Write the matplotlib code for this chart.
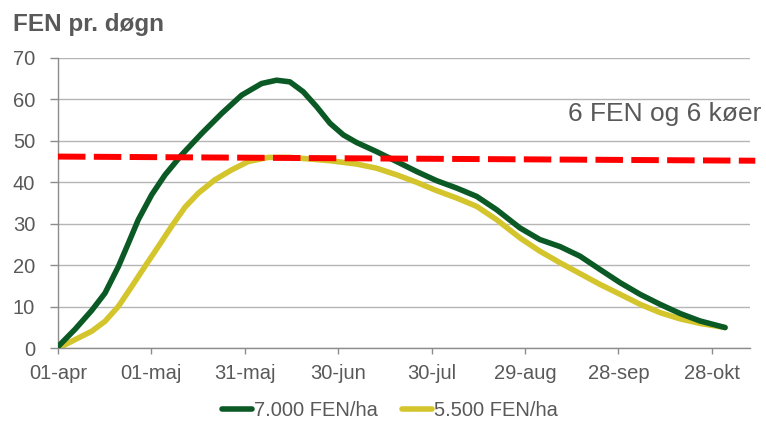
import matplotlib
matplotlib.use("Agg")
import matplotlib.pyplot as plt

# days after 01-apr
green_days = [0, 5.5, 10.8, 15.1, 19.4, 22.6, 25.8, 30.1, 34.4, 39.7, 46.2, 52.6,
              59, 65.4, 70.2, 74.5, 78.8, 83.1, 87.4, 91.7, 95.9, 102.3, 108.8,
              115.2, 121.6, 128.1, 134.5, 140.9, 148.4, 154.8, 161.3, 167.7, 174.1,
              180.6, 187, 193.4, 199.8, 206.2, 214.3]
green_vals = [0.4, 4.6, 9.1, 13.3, 19.7, 25.3, 31.0, 37.0, 41.8, 46.6, 51.8, 56.6,
              61.0, 63.8, 64.6, 64.2, 61.8, 58.2, 54.2, 51.4, 49.6, 47.4, 45.0,
              42.6, 40.4, 38.6, 36.6, 33.4, 29.0, 26.2, 24.5, 22.2, 19.0,
              15.8, 13.0, 10.6, 8.4, 6.6, 5.0]

yellow_days = [0, 5.5, 10.8, 15.1, 19.4, 23.7, 27.9, 32.2, 36.5, 40.8, 45.1, 50.4,
               55.8, 61.1, 67.6, 74.5, 81, 87.4, 95.9, 102.3, 108.8, 115.2, 121.6,
               128.1, 134.5, 140.9, 148.4, 154.8, 161.3, 167.7, 174.1, 180.6, 187,
               193.4, 199.8, 206.2, 214.3]
yellow_vals = [0.0, 2.1, 4.1, 6.5, 10.1, 14.9, 19.7, 24.5, 29.4, 34.0, 37.4, 40.6,
               43.0, 45.0, 46.0, 46.0, 45.6, 45.2, 44.4, 43.4, 41.8, 40.0, 38.0,
               36.2, 34.2, 31.0, 26.6, 23.4, 20.6, 18.0, 15.4, 13.0, 10.6,
               8.6, 7.1, 6.0, 5.0]

red_days = [0, 224]
red_vals = [46.2, 45.2]

tick_days = [0, 30, 60, 90, 120, 150, 180, 210]
tick_labels = ["01-apr", "01-maj", "31-maj", "30-jun", "30-jul", "29-aug", "28-sep", "28-okt"]

plt.rcParams['font.family'] = ['Liberation Sans', 'DejaVu Sans']
text_col = '#595959'

fig = plt.figure(figsize=(7.66, 4.24), dpi=100)
ax = fig.add_axes([58 / 766, 1 - 348.3 / 424, 692 / 766, 290.5 / 424])

ax.plot(green_days, green_vals, color='#0B5A26', lw=4.0, solid_capstyle='round',
        solid_joinstyle='round', label='7.000 FEN/ha', zorder=3)
ax.plot(yellow_days, yellow_vals, color='#D3C52B', lw=4.0, solid_capstyle='round',
        solid_joinstyle='round', label='5.500 FEN/ha', zorder=2)
ax.plot(red_days, red_vals, color='#FF0000', lw=4.3, dashes=(4.6, 1.4),
        dash_capstyle='butt', clip_on=False, zorder=4)

ax.set_xlim(0, 222.3)
ax.set_ylim(0, 70)
ax.set_xticks(tick_days)
ax.set_xticklabels(tick_labels)
ax.set_yticks(range(0, 71, 10))

ax.grid(axis='y', color='#B5B5B5', lw=1.0)
ax.set_axisbelow(True)
for s in ['top', 'right']:
    ax.spines[s].set_visible(False)
for s in ['left', 'bottom']:
    ax.spines[s].set_color('#8C8C8C')
    ax.spines[s].set_linewidth(1.0)

ax.tick_params(axis='y', length=5.5, width=1.0, color='#8C8C8C', pad=11,
               labelsize=14.5, labelcolor=text_col)
ax.tick_params(axis='x', length=4.5, width=1.0, color='#8C8C8C', pad=7,
               labelsize=14.5, labelcolor=text_col)

fig.text(13 / 766, 1 - 31 / 424, 'FEN pr. døgn', fontsize=17.5, fontweight='bold',
         color=text_col, va='baseline', ha='left')
ax.text((568 - 58) / 692, (348.3 - 120.7) / 290.5, '6 FEN og 6 køer',
        transform=ax.transAxes, fontsize=19, color=text_col, va='baseline', ha='left')

fig.legend(loc='center', bbox_to_anchor=(390 / 766, 1 - 411 / 424), ncol=2,
           frameon=False, fontsize=14.5, handlelength=1.5, handletextpad=0.1,
           columnspacing=1.2, labelcolor=text_col)

fig.savefig('out.png', dpi=100)
